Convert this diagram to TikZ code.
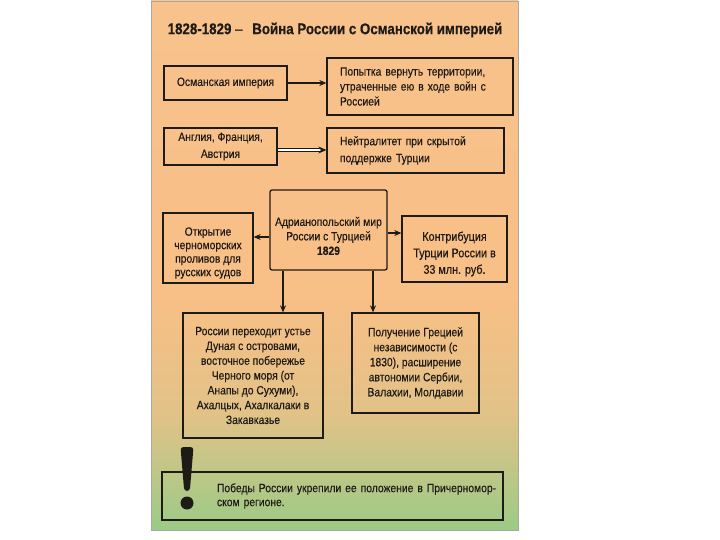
\documentclass[tikz,border=0pt]{standalone}
\usepackage{fontspec}
\setmainfont{Liberation Sans}[FakeStretch=0.86, FakeBold=0.3]
\usetikzlibrary{arrows.meta}
\definecolor{ink}{HTML}{1E1A16}
\definecolor{pgreen}{HTML}{9BCB86}
\definecolor{ptan}{HTML}{E2C287}
\definecolor{porange}{HTML}{F8BF86}
\definecolor{ptop}{HTML}{F8C28C}
\definecolor{pframe}{HTML}{A8A8A8}
\pgfdeclareverticalshading{panelbg}{100bp}{color(0bp)=(pgreen); color(25bp)=(pgreen); color(36bp)=(ptan); color(47bp)=(porange); color(75bp)=(ptop); color(100bp)=(ptop)}
\tikzset{
  box/.style={draw=ink, line width=1.3pt, align=center, inner sep=0pt, text=ink,
    font=\fontsize{12}{15}\selectfont},
  boxtext/.style={align=center, inner sep=0pt, text=ink},
  arr/.style={draw=ink, line width=1.2pt, -{Stealth[length=7pt,width=6pt]}},
  darr/.style={draw=ink, line width=0.8pt, double distance=2.4pt, -{Stealth[length=8pt,width=7pt]}},
}
\begin{document}
\begin{tikzpicture}[x=1pt,y=-1pt]
\useasboundingbox (0,0) rectangle (720,540);
\fill[white] (0,0) rectangle (720,540);
\shade[shading=panelbg] (151,1) rectangle (518,530);
\draw[pframe, line width=0.8pt] (151,1) rectangle (518,530);

\node[text=ink, font=\fontsize{15.5}{18}\selectfont\bfseries] (title) at (335,30)
  {1828-1829 {\mdseries –}\hspace{6pt} Война России с Османской империей};

\node[box, minimum width=123pt, minimum height=34pt] (b1) at (225.5,83) {Османская империя};
\node[box, minimum width=186pt, minimum height=57pt, text width=160pt, align=left] (b2) at (420,86.5)
  {\makebox[155pt][s]{Попытка вернуть территории,}\\\makebox[155pt][s]{утраченные ею в ходе войн с}\\Россией};

\node[box, minimum width=113pt, minimum height=37pt, font=\fontsize{12}{17}\selectfont] (b3) at (220.5,146.5) {Англия, Франция,\\Австрия};
\node[box, minimum width=177pt, minimum height=45pt, text width=151pt, align=left, font=\fontsize{12}{17}\selectfont] (b4) at (415.5,150.5)
  {\makebox[135pt][s]{Нейтралитет при скрытой}\\поддержке Турции};

\node[box, rounded corners=2pt, minimum width=117pt, minimum height=80pt,
  label={[boxtext, yshift=-6pt, font=\fontsize{12}{14.5}\selectfont]center:Адрианопольский мир\\России с Турцией\\\textbf{1829}}] (c) at (328.5,230) {};
\node[box, minimum width=90pt, minimum height=70pt,
  label={[boxtext, yshift=-5pt, font=\fontsize{12}{13.5}\selectfont]center:Открытие\\черноморских\\проливов для\\русских судов}] (L) at (208,248) {};
\node[box, minimum width=105pt, minimum height=66pt,
  label={[boxtext, yshift=-5pt, font=\fontsize{12.5}{16.5}\selectfont]center:Контрибуция\\Турции России в\\33 млн. руб.}] (R) at (454.5,249) {};

\node[box, minimum width=140pt, minimum height=125pt, font=\fontsize{12}{14.8}\selectfont] (LL) at (253,375.5)
  {России переходит устье\\Дуная с островами,\\восточное побережье\\Черного моря (от\\Анапы до Сухуми),\\Ахалцых, Ахалкалаки в\\Закавказье};
\node[box, minimum width=127pt, minimum height=100pt, font=\fontsize{12}{15}\selectfont] (LR) at (415.5,363)
  {Получение Грецией\\независимости (с\\1830), расширение\\автономии Сербии,\\Валахии, Молдавии};

\node[box, minimum width=341pt, minimum height=48pt, text width=331pt, align=left, font=\fontsize{12}{14}\selectfont] (BB) at (332.5,496)
  {\hspace*{50pt}Победы России укрепили ее положение в Причерномор-\\\hspace*{50pt}ском регионе.};

% exclamation mark
\fill[ink, rounded corners=3pt] (180.5,447) -- (193.5,447) -- (189.8,491) -- (184.2,491) -- cycle;
\fill[ink] (187,503) circle (6.5pt);

% helper coordinates
\coordinate (y150) at (0,150);
\coordinate (y237) at (0,237);
\coordinate (y233) at (0,233);
\coordinate (x283) at (283,0);
\coordinate (x373) at (373,0);

\draw[arr] (b1.east) -- (b1.east -| b2.west);
\draw[darr] (b3.east |- y150) -- (b4.west |- y150);
\draw[arr] (c.west |- y237) -- (L.east |- y237);
\draw[arr] (c.east |- y233) -- (R.west |- y233);
\draw[arr] (c.south -| x283) -- (LL.north -| x283);
\draw[arr] (c.south -| x373) -- (LR.north -| x373);
\end{tikzpicture}
\end{document}
